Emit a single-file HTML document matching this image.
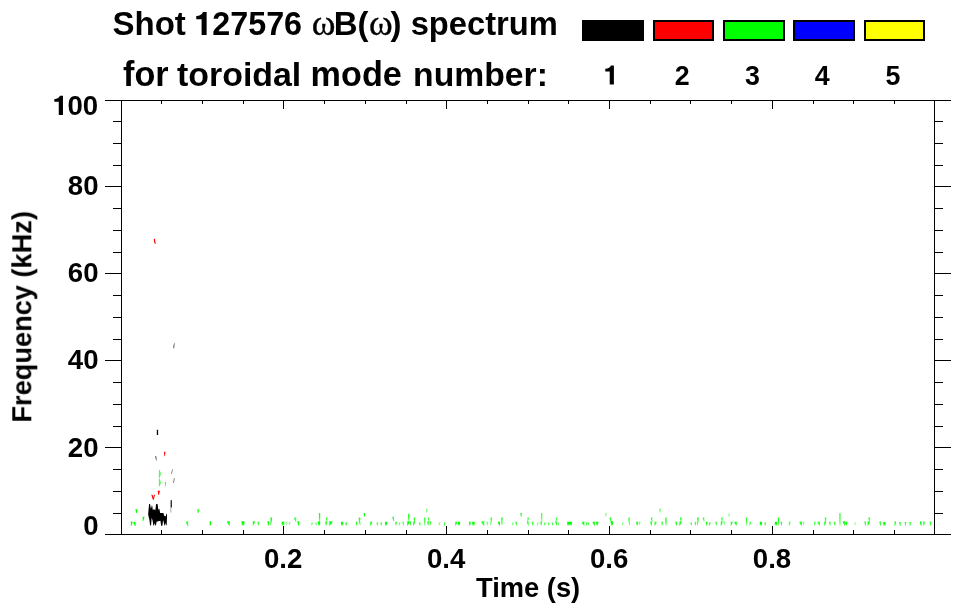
<!DOCTYPE html>
<html><head><meta charset="utf-8"><title>Shot 127576 spectrum</title>
<style>html,body{margin:0;padding:0;background:#fff;}body{width:963px;height:615px;overflow:hidden;font-family:"Liberation Sans",sans-serif;}svg{display:block;}text{font-family:"Liberation Sans",sans-serif;font-weight:bold;fill:#000;}.sym{font-family:"Liberation Serif",serif;font-weight:normal;}</style></head><body>
<svg width="963" height="615" viewBox="0 0 963 615">
<rect x="0" y="0" width="963" height="615" fill="#fff"/>
<g shape-rendering="crispEdges" fill="#000">
<rect x="105" y="100" width="846" height="1"/>
<rect x="105" y="534" width="846" height="1"/>
<rect x="121" y="100" width="1" height="435"/>
<rect x="934" y="100" width="1" height="435"/>
<rect x="105" y="186" width="16" height="1"/>
<rect x="935" y="186" width="16" height="1"/>
<rect x="105" y="273" width="16" height="1"/>
<rect x="935" y="273" width="16" height="1"/>
<rect x="105" y="360" width="16" height="1"/>
<rect x="935" y="360" width="16" height="1"/>
<rect x="105" y="447" width="16" height="1"/>
<rect x="935" y="447" width="16" height="1"/>
<rect x="113" y="121" width="8" height="1"/>
<rect x="935" y="121" width="8" height="1"/>
<rect x="113" y="143" width="8" height="1"/>
<rect x="935" y="143" width="8" height="1"/>
<rect x="113" y="165" width="8" height="1"/>
<rect x="935" y="165" width="8" height="1"/>
<rect x="113" y="208" width="8" height="1"/>
<rect x="935" y="208" width="8" height="1"/>
<rect x="113" y="230" width="8" height="1"/>
<rect x="935" y="230" width="8" height="1"/>
<rect x="113" y="252" width="8" height="1"/>
<rect x="935" y="252" width="8" height="1"/>
<rect x="113" y="295" width="8" height="1"/>
<rect x="935" y="295" width="8" height="1"/>
<rect x="113" y="317" width="8" height="1"/>
<rect x="935" y="317" width="8" height="1"/>
<rect x="113" y="339" width="8" height="1"/>
<rect x="935" y="339" width="8" height="1"/>
<rect x="113" y="382" width="8" height="1"/>
<rect x="935" y="382" width="8" height="1"/>
<rect x="113" y="404" width="8" height="1"/>
<rect x="935" y="404" width="8" height="1"/>
<rect x="113" y="426" width="8" height="1"/>
<rect x="935" y="426" width="8" height="1"/>
<rect x="113" y="469" width="8" height="1"/>
<rect x="935" y="469" width="8" height="1"/>
<rect x="113" y="491" width="8" height="1"/>
<rect x="935" y="491" width="8" height="1"/>
<rect x="113" y="513" width="8" height="1"/>
<rect x="935" y="513" width="8" height="1"/>
<rect x="161" y="101" width="1" height="3"/>
<rect x="161" y="530" width="1" height="4"/>
<rect x="202" y="101" width="1" height="3"/>
<rect x="202" y="530" width="1" height="4"/>
<rect x="243" y="101" width="1" height="3"/>
<rect x="243" y="530" width="1" height="4"/>
<rect x="283" y="101" width="1" height="8"/>
<rect x="283" y="526" width="1" height="8"/>
<rect x="324" y="101" width="1" height="3"/>
<rect x="324" y="530" width="1" height="4"/>
<rect x="365" y="101" width="1" height="3"/>
<rect x="365" y="530" width="1" height="4"/>
<rect x="406" y="101" width="1" height="3"/>
<rect x="406" y="530" width="1" height="4"/>
<rect x="446" y="101" width="1" height="8"/>
<rect x="446" y="526" width="1" height="8"/>
<rect x="487" y="101" width="1" height="3"/>
<rect x="487" y="530" width="1" height="4"/>
<rect x="528" y="101" width="1" height="3"/>
<rect x="528" y="530" width="1" height="4"/>
<rect x="568" y="101" width="1" height="3"/>
<rect x="568" y="530" width="1" height="4"/>
<rect x="609" y="101" width="1" height="8"/>
<rect x="609" y="526" width="1" height="8"/>
<rect x="650" y="101" width="1" height="3"/>
<rect x="650" y="530" width="1" height="4"/>
<rect x="690" y="101" width="1" height="3"/>
<rect x="690" y="530" width="1" height="4"/>
<rect x="731" y="101" width="1" height="3"/>
<rect x="731" y="530" width="1" height="4"/>
<rect x="772" y="101" width="1" height="8"/>
<rect x="772" y="526" width="1" height="8"/>
<rect x="813" y="101" width="1" height="3"/>
<rect x="813" y="530" width="1" height="4"/>
<rect x="853" y="101" width="1" height="3"/>
<rect x="853" y="530" width="1" height="4"/>
<rect x="894" y="101" width="1" height="3"/>
<rect x="894" y="530" width="1" height="4"/>
</g>
<g shape-rendering="crispEdges">
<rect x="582" y="20" width="62" height="21" fill="#000"/>
<rect x="584" y="22" width="58" height="17" fill="#000"/>
<rect x="653" y="20" width="61" height="21" fill="#000"/>
<rect x="655" y="22" width="57" height="17" fill="#ff0000"/>
<rect x="723" y="20" width="62" height="21" fill="#000"/>
<rect x="725" y="22" width="58" height="17" fill="#00ff00"/>
<rect x="793" y="20" width="62" height="21" fill="#000"/>
<rect x="795" y="22" width="58" height="17" fill="#0000ff"/>
<rect x="864" y="20" width="61" height="21" fill="#000"/>
<rect x="866" y="22" width="57" height="17" fill="#ffff00"/>
</g>
<g id="labels" style="opacity:0.999">
<text x="112.5" y="35" font-size="33">Shot</text>
<path d="M235,0 L391,0 L391,-711 L278,-711 C262,-640 180,-592 70,-587 L70,-489 L235,-489 Z" transform="translate(194.00,35) scale(0.03230)" fill="#000"/>
<text x="212.26" y="35" font-size="32.3">27576</text>
<text x="311.7" y="35" font-size="36" class="sym" stroke="#000" stroke-width="0.35">ω</text>
<text x="333.8" y="35" font-size="33">B</text>
<text x="357.5" y="35" font-size="33">(</text>
<text x="368.9" y="35" font-size="36" class="sym" stroke="#000" stroke-width="0.35">ω</text>
<text x="390.5" y="35" font-size="33">)</text>
<text x="410.7" y="35" font-size="32.7">spectrum</text>
<text x="123.0" y="85.8" font-size="34.2">for</text>
<text x="177.0" y="85.8" font-size="33.9">toroidal</text>
<text x="310.6" y="85.8" font-size="34.2">mode</text>
<text x="413.1" y="85.8" font-size="33.7">number:</text>
<path d="M235,0 L391,0 L391,-711 L278,-711 C262,-640 180,-592 70,-587 L70,-489 L235,-489 Z" transform="translate(603.42,84.6) scale(0.02680)" fill="#000"/>
<text x="682.3" y="84.6" font-size="26.8" text-anchor="middle">2</text>
<text x="752.5" y="84.6" font-size="26.8" text-anchor="middle">3</text>
<text x="822.2" y="84.6" font-size="26.8" text-anchor="middle">4</text>
<text x="893" y="84.6" font-size="26.8" text-anchor="middle">5</text>
<text x="98.2" y="115.2" font-size="27.6" text-anchor="end">00</text>
<path d="M235,0 L391,0 L391,-711 L278,-711 C262,-640 180,-592 70,-587 L70,-489 L235,-489 Z" transform="translate(52.41,115.0) scale(0.02700)" fill="#000"/>
<text x="98.5" y="194.6" font-size="27.6" text-anchor="end">80</text>
<text x="98.5" y="282.2" font-size="27.6" text-anchor="end">60</text>
<text x="98.5" y="369.4" font-size="27.6" text-anchor="end">40</text>
<text x="98.5" y="456.5" font-size="27.6" text-anchor="end">20</text>
<text x="98.5" y="534.5" font-size="27.6" text-anchor="end">0</text>
<text x="283.2" y="567.7" font-size="27.6" text-anchor="middle">0.2</text>
<text x="446.2" y="567.7" font-size="27.6" text-anchor="middle">0.4</text>
<text x="609.1" y="567.7" font-size="27.6" text-anchor="middle">0.6</text>
<text x="772.0" y="567.7" font-size="27.6" text-anchor="middle">0.8</text>
<text x="528.1" y="596.6" font-size="27.3" text-anchor="middle">Time (s)</text>
<text transform="translate(31.3,316.8) rotate(-90)" font-size="27.2" text-anchor="middle">Frequency (kHz)</text>
</g>
<defs><linearGradient id="gg" x1="0" y1="0" x2="0" y2="1"><stop offset="0" stop-color="#00ff00"/><stop offset="0.45" stop-color="#00ff00"/><stop offset="1" stop-color="#00ff00" stop-opacity="0.45"/></linearGradient></defs>
<g id="data">
<polygon points="130.7,521.5 132.5,521.5 132.3,523.4 131.4,525.8 130.7,525.8 131.0,523.4" fill="#00ff00"/>
<polygon points="133.4,521.9 135.7,521.9 135.4,523.7 135.7,526.0 135.0,526.0 133.7,523.7" fill="#00ff00"/>
<polygon points="135.4,509.3 137.5,509.3 137.2,511.0 136.8,513.1 136.1,513.1 135.7,511.0" fill="#00ff00"/>
<polygon points="142.5,516.8 144.5,516.8 144.2,518.6 143.2,520.9 142.5,520.9 142.8,518.6" fill="#00ff00"/>
<polygon points="185.9,521.5 188.4,521.5 188.0,523.5 188.4,526.0 187.7,526.0 186.3,523.5" fill="#00ff00" fill-opacity="0.80"/>
<polygon points="197.1,509.3 199.4,509.3 199.1,510.9 198.6,512.9 197.9,512.9 197.4,510.9" fill="#00ff00" fill-opacity="0.80"/>
<polygon points="209.4,521.6 211.2,521.6 211.0,523.2 210.1,525.2 209.4,525.2 209.7,523.2" fill="#00ff00" fill-opacity="0.80"/>
<polygon points="227.0,521.2 230.1,521.2 229.6,523.2 230.0,525.6 229.3,525.6 227.5,523.2" fill="#00ff00" fill-opacity="0.90"/>
<rect x="241.6" y="521.2" width="2.8" height="4.4" fill="url(#gg)"/>
<polygon points="252.6,521.2 255.0,521.2 254.6,523.0 253.3,525.2 252.6,525.2 252.9,523.0" fill="#00ff00" fill-opacity="0.90"/>
<polygon points="257.4,521.8 259.2,521.8 258.9,523.5 259.3,525.6 258.6,525.6 257.7,523.5" fill="#00ff00" fill-opacity="0.80"/>
<polygon points="267.4,521.2 269.2,521.2 269.0,523.2 268.7,525.6 268.0,525.6 267.7,523.2" fill="#00ff00"/>
<polygon points="270.4,517.5 272.2,517.5 271.9,520.8 271.0,524.9 270.3,524.9 270.6,520.8" fill="#00ff00" fill-opacity="0.90"/>
<rect x="281.7" y="521.6" width="2.5" height="4.0" fill="url(#gg)"/>
<polygon points="285.7,522.2 287.5,522.2 287.2,523.5 287.0,525.2 286.3,525.2 286.0,523.5" fill="#00ff00" fill-opacity="0.45"/>
<polygon points="288.8,522.2 290.6,522.2 290.3,523.5 289.4,525.2 288.7,525.2 289.1,523.5" fill="#00ff00" fill-opacity="0.45"/>
<polygon points="293.9,517.5 296.4,517.5 296.0,519.4 296.3,521.8 295.6,521.8 294.3,519.4" fill="#00ff00" fill-opacity="0.70"/>
<polygon points="297.4,521.2 299.5,521.2 299.2,523.2 298.8,525.6 298.1,525.6 297.7,523.2" fill="#00ff00"/>
<polygon points="311.1,522.4 313.2,522.4 312.9,523.8 311.8,525.6 311.1,525.6 311.4,523.8" fill="#00ff00" fill-opacity="0.50"/>
<polygon points="314.9,522.4 316.9,522.4 316.6,523.8 317.0,525.6 316.3,525.6 315.2,523.8" fill="#00ff00" fill-opacity="0.50"/>
<rect x="318.9" y="513.1" width="1.3" height="8.5" fill="url(#gg)" fill-opacity="0.90"/>
<rect x="317.9" y="521.4" width="2.2" height="4.2" fill="url(#gg)"/>
<polygon points="325.7,517.5 327.5,517.5 327.2,519.3 327.6,521.6 326.9,521.6 326.0,519.3" fill="#00ff00" fill-opacity="0.81"/>
<polygon points="325.2,521.4 327.2,521.4 326.9,523.3 326.5,525.6 325.8,525.6 325.5,523.3" fill="#00ff00" fill-opacity="0.90"/>
<polygon points="328.9,521.2 332.6,521.2 332.0,523.2 329.8,525.6 329.1,525.6 329.5,523.2" fill="#00ff00" fill-opacity="0.90"/>
<rect x="341.0" y="521.8" width="2.2" height="3.7" fill="url(#gg)"/>
<polygon points="345.2,522.4 347.0,522.4 346.8,523.8 346.5,525.6 345.8,525.6 345.5,523.8" fill="#00ff00" fill-opacity="0.90"/>
<polygon points="355.7,521.8 357.5,521.8 357.2,523.5 356.3,525.6 355.6,525.6 356.0,523.5" fill="#00ff00" fill-opacity="0.90"/>
<polygon points="358.6,517.5 360.4,517.5 360.1,520.8 360.5,524.9 359.8,524.9 358.8,520.8" fill="#00ff00" fill-opacity="0.80"/>
<polygon points="363.6,513.1 365.4,513.1 365.1,514.8 364.8,516.8 364.1,516.8 363.8,514.8" fill="#00ff00" fill-opacity="0.90"/>
<polygon points="370.0,521.8 372.1,521.8 371.8,523.5 370.7,525.6 370.0,525.6 370.3,523.5" fill="#00ff00" fill-opacity="0.90"/>
<polygon points="376.4,522.4 378.2,522.4 377.9,523.8 378.3,525.6 377.6,525.6 376.7,523.8" fill="#00ff00" fill-opacity="0.80"/>
<polygon points="380.4,522.4 382.2,522.4 381.9,523.8 381.6,525.6 380.9,525.6 380.6,523.8" fill="#00ff00" fill-opacity="0.80"/>
<rect x="385.0" y="521.8" width="2.2" height="3.7" fill="url(#gg)"/>
<polygon points="392.3,516.8 394.1,516.8 393.9,518.8 394.2,521.2 393.5,521.2 392.6,518.8" fill="#00ff00" fill-opacity="0.80"/>
<polygon points="395.0,521.8 397.0,521.8 396.7,523.5 396.3,525.6 395.6,525.6 395.3,523.5" fill="#00ff00" fill-opacity="0.80"/>
<polygon points="398.8,522.4 400.6,522.4 400.3,523.8 399.4,525.6 398.7,525.6 399.1,523.8" fill="#00ff00" fill-opacity="0.60"/>
<polygon points="402.3,521.8 404.1,521.8 403.8,523.5 404.2,525.6 403.5,525.6 402.6,523.5" fill="#00ff00" fill-opacity="0.70"/>
<rect x="408.1" y="513.7" width="1.3" height="7.9" fill="url(#gg)" fill-opacity="0.90"/>
<polygon points="407.0,521.4 409.5,521.4 409.1,523.3 407.8,525.6 407.1,525.6 407.4,523.3" fill="#00ff00"/>
<polygon points="409.4,521.2 411.2,521.2 410.9,523.2 411.3,525.6 410.6,525.6 409.7,523.2" fill="#00ff00" fill-opacity="0.80"/>
<polygon points="413.5,517.5 415.3,517.5 415.1,519.3 414.8,521.6 414.1,521.6 413.8,519.3" fill="#00ff00" fill-opacity="0.81"/>
<polygon points="413.0,521.4 415.1,521.4 414.8,523.3 413.7,525.6 413.0,525.6 413.3,523.3" fill="#00ff00" fill-opacity="0.90"/>
<polygon points="418.8,522.4 420.6,522.4 420.3,523.8 420.6,525.6 419.9,525.6 419.0,523.8" fill="#00ff00" fill-opacity="0.80"/>
<rect x="424.1" y="517.5" width="1.3" height="8.1" fill="url(#gg)" fill-opacity="0.80"/>
<polygon points="426.0,508.7 427.8,508.7 427.5,510.4 426.6,512.5 425.9,512.5 426.2,510.4" fill="#00ff00" fill-opacity="0.50"/>
<polygon points="427.6,517.5 429.4,517.5 429.1,519.3 429.5,521.6 428.8,521.6 427.9,519.3" fill="#00ff00" fill-opacity="0.72"/>
<polygon points="427.1,521.4 429.1,521.4 428.8,523.3 428.4,525.6 427.7,525.6 427.4,523.3" fill="#00ff00" fill-opacity="0.80"/>
<polygon points="429.7,521.2 431.5,521.2 431.2,523.2 430.3,525.6 429.6,525.6 430.0,523.2" fill="#00ff00" fill-opacity="0.70"/>
<polygon points="438.4,522.4 440.2,522.4 439.9,523.8 440.3,525.6 439.6,525.6 438.7,523.8" fill="#00ff00" fill-opacity="0.50"/>
<polygon points="443.7,522.4 445.5,522.4 445.2,523.8 445.0,525.6 444.3,525.6 444.0,523.8" fill="#00ff00" fill-opacity="0.80"/>
<polygon points="455.1,521.8 457.2,521.8 456.9,523.5 455.8,525.6 455.1,525.6 455.4,523.5" fill="#00ff00" fill-opacity="0.90"/>
<rect x="457.9" y="521.8" width="2.2" height="3.7" fill="url(#gg)"/>
<polygon points="468.8,521.8 470.9,521.8 470.6,523.5 470.2,525.6 469.5,525.6 469.1,523.5" fill="#00ff00" fill-opacity="0.90"/>
<rect x="472.2" y="521.8" width="2.5" height="3.7" fill="url(#gg)"/>
<polygon points="481.3,521.2 484.6,521.2 484.1,523.2 484.4,525.6 483.7,525.6 481.8,523.2" fill="#00ff00" fill-opacity="0.80"/>
<polygon points="486.3,521.8 488.3,521.8 488.0,523.5 487.6,525.6 486.9,525.6 486.6,523.5" fill="#00ff00" fill-opacity="0.50"/>
<polygon points="490.4,517.5 492.2,517.5 491.9,520.8 491.0,524.9 490.3,524.9 490.6,520.8" fill="#00ff00" fill-opacity="0.70"/>
<polygon points="497.9,521.8 500.2,521.8 499.8,523.5 500.2,525.6 499.5,525.6 498.2,523.5" fill="#00ff00"/>
<polygon points="501.0,517.5 502.8,517.5 502.6,520.8 502.3,524.9 501.6,524.9 501.3,520.8" fill="#00ff00" fill-opacity="0.80"/>
<polygon points="511.9,522.4 513.7,522.4 513.5,523.8 512.6,525.6 511.9,525.6 512.2,523.8" fill="#00ff00" fill-opacity="0.50"/>
<polygon points="515.3,521.8 517.1,521.8 516.8,523.5 517.2,525.6 516.5,525.6 515.6,523.5" fill="#00ff00" fill-opacity="0.80"/>
<polygon points="520.2,513.1 522.0,513.1 521.8,514.8 521.5,516.8 520.8,516.8 520.5,514.8" fill="#00ff00" fill-opacity="0.80"/>
<polygon points="527.3,517.5 529.1,517.5 528.8,519.3 527.9,521.6 527.2,521.6 527.5,519.3" fill="#00ff00" fill-opacity="0.72"/>
<polygon points="526.8,521.4 528.8,521.4 528.5,523.3 528.9,525.6 528.2,525.6 527.1,523.3" fill="#00ff00" fill-opacity="0.80"/>
<polygon points="531.8,521.8 533.6,521.8 533.4,523.5 533.1,525.6 532.4,525.6 532.1,523.5" fill="#00ff00" fill-opacity="0.80"/>
<polygon points="536.8,522.4 538.6,522.4 538.4,523.8 537.4,525.6 536.7,525.6 537.1,523.8" fill="#00ff00" fill-opacity="0.50"/>
<rect x="541.0" y="513.1" width="1.3" height="8.5" fill="url(#gg)" fill-opacity="0.72"/>
<polygon points="540.2,521.4 542.2,521.4 541.9,523.3 541.6,525.6 540.9,525.6 540.5,523.3" fill="#00ff00" fill-opacity="0.80"/>
<polygon points="544.1,522.4 545.9,522.4 545.6,523.8 544.7,525.6 544.0,525.6 544.3,523.8" fill="#00ff00" fill-opacity="0.70"/>
<polygon points="547.5,522.4 549.3,522.4 549.1,523.8 549.4,525.6 548.7,525.6 547.8,523.8" fill="#00ff00" fill-opacity="0.70"/>
<polygon points="551.5,522.4 553.3,522.4 553.1,523.8 552.8,525.6 552.1,525.6 551.8,523.8" fill="#00ff00" fill-opacity="0.70"/>
<polygon points="555.7,517.5 557.5,517.5 557.2,519.3 556.3,521.6 555.6,521.6 555.9,519.3" fill="#00ff00" fill-opacity="0.72"/>
<polygon points="555.1,521.4 557.2,521.4 556.9,523.3 557.2,525.6 556.5,525.6 555.5,523.3" fill="#00ff00" fill-opacity="0.80"/>
<polygon points="557.5,522.4 559.3,522.4 559.0,523.8 558.8,525.6 558.1,525.6 557.8,523.8" fill="#00ff00" fill-opacity="0.60"/>
<rect x="567.2" y="521.8" width="4.7" height="3.7" fill="url(#gg)"/>
<polygon points="581.9,521.8 584.6,521.8 584.2,523.5 584.6,525.6 583.9,525.6 582.3,523.5" fill="#00ff00" fill-opacity="0.90"/>
<polygon points="585.8,522.4 587.6,522.4 587.3,523.8 587.0,525.6 586.3,525.6 586.1,523.8" fill="#00ff00" fill-opacity="0.80"/>
<polygon points="587.7,522.4 589.5,522.4 589.2,523.8 588.3,525.6 587.6,525.6 587.9,523.8" fill="#00ff00" fill-opacity="0.70"/>
<polygon points="592.5,521.8 595.2,521.8 594.8,523.5 595.1,525.6 594.4,525.6 592.9,523.5" fill="#00ff00" fill-opacity="0.90"/>
<polygon points="595.6,521.8 598.7,521.8 598.2,523.5 597.5,525.6 596.8,525.6 596.1,523.5" fill="#00ff00" fill-opacity="0.90"/>
<polygon points="605.0,513.1 607.0,513.1 606.7,514.8 605.6,516.8 604.9,516.8 605.3,514.8" fill="#00ff00" fill-opacity="0.40"/>
<polygon points="609.4,517.5 611.4,517.5 611.1,519.4 611.4,521.8 610.7,521.8 609.7,519.4" fill="#00ff00" fill-opacity="0.80"/>
<rect x="610.8" y="521.2" width="2.2" height="4.4" fill="url(#gg)"/>
<polygon points="621.9,522.4 623.7,522.4 623.5,523.8 622.6,525.6 621.9,525.6 622.2,523.8" fill="#00ff00" fill-opacity="0.50"/>
<polygon points="628.2,517.5 630.0,517.5 629.7,520.8 630.0,524.9 629.3,524.9 628.4,520.8" fill="#00ff00" fill-opacity="0.70"/>
<polygon points="636.1,521.8 638.2,521.8 637.9,523.5 637.5,525.6 636.8,525.6 636.4,523.5" fill="#00ff00" fill-opacity="0.90"/>
<polygon points="638.8,521.8 640.6,521.8 640.3,523.2 639.4,524.9 638.7,524.9 639.0,523.2" fill="#00ff00" fill-opacity="0.50"/>
<polygon points="650.7,517.5 652.5,517.5 652.2,519.3 652.6,521.6 651.9,521.6 651.0,519.3" fill="#00ff00" fill-opacity="0.81"/>
<polygon points="650.2,521.4 652.2,521.4 651.9,523.3 651.6,525.6 650.9,525.6 650.5,523.3" fill="#00ff00" fill-opacity="0.90"/>
<polygon points="654.3,521.8 656.6,521.8 656.3,523.5 655.0,525.6 654.3,525.6 654.6,523.5" fill="#00ff00" fill-opacity="0.80"/>
<polygon points="659.0,508.7 660.8,508.7 660.6,510.4 660.9,512.5 660.2,512.5 659.3,510.4" fill="#00ff00" fill-opacity="0.60"/>
<polygon points="661.3,521.8 663.1,521.8 662.8,523.5 662.5,525.6 661.8,525.6 661.6,523.5" fill="#00ff00" fill-opacity="0.80"/>
<rect x="665.3" y="517.5" width="1.3" height="8.1" fill="url(#gg)" fill-opacity="0.90"/>
<polygon points="675.2,521.8 677.0,521.8 676.8,523.5 677.1,525.6 676.4,525.6 675.5,523.5" fill="#00ff00" fill-opacity="0.90"/>
<polygon points="679.9,517.5 681.7,517.5 681.5,519.3 681.2,521.6 680.5,521.6 680.2,519.3" fill="#00ff00" fill-opacity="0.81"/>
<polygon points="679.2,521.4 681.5,521.4 681.2,523.3 679.9,525.6 679.2,525.6 679.6,523.3" fill="#00ff00" fill-opacity="0.90"/>
<polygon points="690.2,522.4 692.0,522.4 691.7,523.8 692.1,525.6 691.4,525.6 690.5,523.8" fill="#00ff00" fill-opacity="0.80"/>
<polygon points="694.6,521.8 696.4,521.8 696.1,523.5 695.8,525.6 695.1,525.6 694.8,523.5" fill="#00ff00" fill-opacity="0.70"/>
<polygon points="697.0,517.5 698.8,517.5 698.6,520.8 697.7,524.9 697.0,524.9 697.3,520.8" fill="#00ff00" fill-opacity="0.80"/>
<polygon points="702.7,517.5 704.5,517.5 704.2,519.1 704.5,521.2 703.8,521.2 702.9,519.1" fill="#00ff00" fill-opacity="0.80"/>
<polygon points="705.6,521.8 707.7,521.8 707.4,523.5 707.0,525.6 706.3,525.6 706.0,523.5" fill="#00ff00" fill-opacity="0.90"/>
<polygon points="708.8,522.4 710.8,522.4 710.5,523.8 709.4,525.6 708.7,525.6 709.1,523.8" fill="#00ff00" fill-opacity="0.80"/>
<polygon points="715.1,521.8 716.9,521.8 716.6,523.5 717.0,525.6 716.3,525.6 715.4,523.5" fill="#00ff00" fill-opacity="0.80"/>
<polygon points="721.1,517.5 722.9,517.5 722.6,519.3 722.4,521.6 721.7,521.6 721.4,519.3" fill="#00ff00" fill-opacity="0.81"/>
<polygon points="720.6,521.4 722.6,521.4 722.3,523.3 721.3,525.6 720.6,525.6 720.9,523.3" fill="#00ff00" fill-opacity="0.90"/>
<polygon points="723.2,521.2 725.0,521.2 724.7,522.9 725.1,524.9 724.4,524.9 723.5,522.9" fill="#00ff00" fill-opacity="0.50"/>
<polygon points="728.2,513.7 730.0,513.7 729.7,515.1 729.4,516.8 728.7,516.8 728.5,515.1" fill="#00ff00" fill-opacity="0.50"/>
<polygon points="730.6,521.8 732.6,521.8 732.3,523.5 731.2,525.6 730.5,525.6 730.9,523.5" fill="#00ff00" fill-opacity="0.90"/>
<polygon points="734.3,521.8 737.0,521.8 736.6,523.5 736.9,525.6 736.2,525.6 734.7,523.5" fill="#00ff00" fill-opacity="0.90"/>
<rect x="745.8" y="517.5" width="1.3" height="8.1" fill="url(#gg)" fill-opacity="0.80"/>
<polygon points="749.4,521.8 751.2,521.8 750.9,523.5 750.0,525.6 749.3,525.6 749.7,523.5" fill="#00ff00" fill-opacity="0.70"/>
<rect x="759.8" y="521.8" width="2.2" height="3.7" fill="url(#gg)"/>
<polygon points="764.3,522.4 766.1,522.4 765.8,523.8 765.6,525.6 764.9,525.6 764.6,523.8" fill="#00ff00" fill-opacity="0.80"/>
<rect x="774.8" y="521.8" width="2.2" height="3.7" fill="url(#gg)"/>
<rect x="777.8" y="517.5" width="1.3" height="8.1" fill="url(#gg)" fill-opacity="0.90"/>
<polygon points="780.5,521.8 782.3,521.8 782.0,523.5 781.8,525.6 781.1,525.6 780.8,523.5" fill="#00ff00" fill-opacity="0.80"/>
<polygon points="788.7,521.8 790.5,521.8 790.3,523.5 789.3,525.6 788.6,525.6 789.0,523.5" fill="#00ff00" fill-opacity="0.70"/>
<polygon points="799.4,521.8 802.1,521.8 801.7,523.5 802.1,525.6 801.4,525.6 799.8,523.5" fill="#00ff00" fill-opacity="0.90"/>
<polygon points="802.7,521.8 804.5,521.8 804.2,523.2 803.9,524.9 803.2,524.9 803.0,523.2" fill="#00ff00" fill-opacity="0.50"/>
<polygon points="813.9,521.8 815.7,521.8 815.4,523.5 814.5,525.6 813.8,525.6 814.2,523.5" fill="#00ff00" fill-opacity="0.70"/>
<polygon points="817.5,521.8 820.2,521.8 819.8,523.5 820.1,525.6 819.4,525.6 817.9,523.5" fill="#00ff00" fill-opacity="0.80"/>
<polygon points="824.6,517.5 826.4,517.5 826.2,519.3 825.9,521.6 825.2,521.6 824.9,519.3" fill="#00ff00" fill-opacity="0.81"/>
<polygon points="824.1,521.4 826.2,521.4 825.9,523.3 824.8,525.6 824.1,525.6 824.4,523.3" fill="#00ff00" fill-opacity="0.90"/>
<polygon points="828.9,521.8 830.7,521.8 830.4,523.5 830.7,525.6 830.0,525.6 829.1,523.5" fill="#00ff00" fill-opacity="0.80"/>
<polygon points="833.8,521.8 835.6,521.8 835.4,523.5 835.1,525.6 834.4,525.6 834.1,523.5" fill="#00ff00" fill-opacity="0.80"/>
<rect x="839.3" y="513.1" width="1.3" height="12.5" fill="url(#gg)" fill-opacity="0.80"/>
<polygon points="842.8,521.2 845.1,521.2 844.8,523.2 845.1,525.6 844.4,525.6 843.2,523.2" fill="#00ff00" fill-opacity="0.90"/>
<polygon points="844.9,521.8 847.6,521.8 847.2,523.5 846.6,525.6 845.9,525.6 845.3,523.5" fill="#00ff00" fill-opacity="0.90"/>
<polygon points="854.4,522.4 856.2,522.4 855.9,523.8 855.0,525.6 854.3,525.6 854.7,523.8" fill="#00ff00" fill-opacity="0.40"/>
<polygon points="864.3,521.6 866.1,521.6 865.8,523.5 866.2,525.8 865.5,525.8 864.6,523.5" fill="#00ff00" fill-opacity="0.80"/>
<polygon points="868.3,517.5 870.1,517.5 869.9,519.3 869.6,521.6 868.9,521.6 868.6,519.3" fill="#00ff00" fill-opacity="0.81"/>
<polygon points="867.4,521.4 870.0,521.4 869.6,523.3 868.1,525.6 867.4,525.6 867.8,523.3" fill="#00ff00" fill-opacity="0.90"/>
<polygon points="879.3,521.6 881.1,521.6 880.9,523.5 881.2,525.8 880.5,525.8 879.6,523.5" fill="#00ff00" fill-opacity="0.80"/>
<rect x="883.2" y="522.1" width="2.4" height="3.6" fill="url(#gg)"/>
<polygon points="894.4,521.6 896.2,521.6 895.9,523.5 895.0,525.8 894.3,525.8 894.7,523.5" fill="#00ff00" fill-opacity="0.90"/>
<polygon points="899.1,522.1 900.9,522.1 900.6,523.8 901.0,525.8 900.3,525.8 899.3,523.8" fill="#00ff00" fill-opacity="0.80"/>
<polygon points="904.6,522.1 906.4,522.1 906.1,523.8 905.8,525.8 905.1,525.8 904.9,523.8" fill="#00ff00" fill-opacity="0.80"/>
<polygon points="909.5,522.1 911.3,522.1 911.0,523.8 910.1,525.8 909.4,525.8 909.7,523.8" fill="#00ff00" fill-opacity="0.80"/>
<polygon points="919.8,521.6 921.7,521.6 921.4,523.5 921.7,525.8 921.0,525.8 920.1,523.5" fill="#00ff00"/>
<polygon points="923.0,521.6 924.8,521.6 924.5,523.5 924.2,525.8 923.5,525.8 923.2,523.5" fill="#00ff00" fill-opacity="0.80"/>
<polygon points="929.7,521.6 931.5,521.6 931.2,523.5 930.3,525.8 929.6,525.8 930.0,523.5" fill="#00ff00" fill-opacity="0.80"/>
<polygon fill="#000" points="148.13,514.51 148.46,510.61 149.11,504.11 150.08,503.98 150.73,508.33 151.19,508.01 151.71,505.41 152.23,505.73 152.88,510.28 153.79,508.98 154.44,509.44 155.28,510.61 156.13,504.11 157.56,503.98 158.34,509.63 159.38,508.79 160.16,512.89 163.41,512.89 164.20,515.68 165.69,516.59 166.54,513.21 166.99,514.51 166.99,517.76 166.67,525.57 166.15,525.24 165.69,522.64 165.04,525.57 164.39,525.24 163.74,522.32 163.09,520.04 162.44,525.57 161.14,525.89 160.49,520.69 159.19,521.02 156.59,521.80 155.93,525.44 155.28,525.57 154.63,522.97 153.98,525.57 153.33,525.44 152.68,521.02 151.71,517.76 151.06,525.24 150.08,525.57 149.43,520.04 148.59,516.46"/>
<polygon fill="#ff0000" points="151.3,494.8 152.6,494.8 153.3,497.5 154.0,494.8 155.0,494.8 153.8,499.8 152.9,499.8"/>
<polygon fill="#ff0000" points="157.7,490.8 159.9,490.8 159.0,495.0 158.4,495.0"/>
<polygon fill="#ff0000" fill-opacity="0.9" points="163.9,451.8 165.6,451.8 164.8,456.3 164.2,456.3"/>
<polygon fill="#ff0000" points="153.8,238.7 155.0,238.7 155.2,241.5 156.0,243.7 154.6,243.5 154.0,241.5"/>
<rect x="156.8" y="429.8" width="1.3" height="5.2" fill="#000"/>
<polygon fill="#000" fill-opacity="0.5" points="155.0,456.0 156.3,456.0 157.0,460.6 156.2,460.6 155.2,458.0"/>
<polygon fill="#000" fill-opacity="0.5" points="172.2,469.2 173.0,469.2 172.0,473.8 171.0,473.8"/>
<polygon fill="#000" fill-opacity="0.5" points="174.0,478.0 174.9,478.0 173.9,482.9 172.9,482.9"/>
<rect x="170.6" y="500.2" width="1.3" height="7.3" fill="#000" fill-opacity="0.9"/>
<rect x="170.3" y="507.5" width="1.1" height="5.1" fill="#000" fill-opacity="0.3"/>
<polygon fill="#000" fill-opacity="0.45" points="173.0,348.3 174.3,348.3 175.0,343.0 174.4,343.0 173.1,345.5"/>
<polygon fill="#00ff00" fill-opacity="0.7" points="158.9,469.7 159.6,469.7 161.0,473.8 159.6,478.0 158.9,478.0"/>
<polygon fill="#00ff00" fill-opacity="0.7" points="158.9,478.4 159.6,478.4 161.0,482.4 159.6,486.5 158.9,486.5"/>
<polygon fill="#00ff00" fill-opacity="0.85" points="164.9,482.0 166.1,482.0 165.7,486.5 165.2,486.5"/>
<rect x="210.0" y="521.2" width="1.0" height="4.1" fill="#00ff00" fill-opacity="0.8"/>
</g>
</svg></body></html>
